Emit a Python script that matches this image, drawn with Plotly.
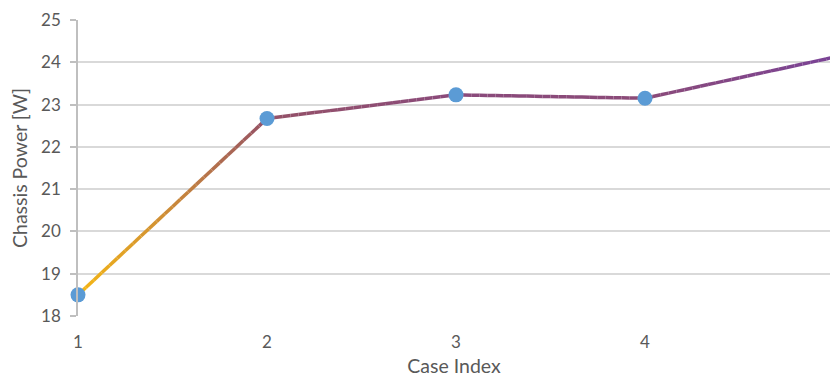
import numpy as np
import plotly.graph_objects as go

# Measured chassis power per test case
case_index = [1, 2, 3, 4, 5]
chassis_power = [18.5, 22.67, 23.23, 23.15, 24.12]

x_ticks = [1, 2, 3, 4]
y_ticks = [18, 19, 20, 21, 22, 23, 24, 25]

# Line colour runs from amber at the bottom of the chart to purple at the top
grad_stops = [(18.5, (245, 183, 20)), (20.5, (205, 140, 55)), (22.6, (150, 82, 100)),
              (23.2, (138, 74, 122)), (24.2, (120, 66, 152))]


def grad_color(v):
    ys = [s[0] for s in grad_stops]
    cols = np.array([s[1] for s in grad_stops], dtype=float)
    rgb = [np.interp(v, ys, cols[:, k]) for k in range(3)]
    return "rgb(%d,%d,%d)" % tuple(int(round(c)) for c in rgb)


fig = go.Figure()

# Draw each segment in short pieces so the stroke can carry the colour gradient
pieces = 24
for i in range(len(case_index) - 1):
    xs = np.linspace(case_index[i], case_index[i + 1], pieces + 1)
    ys = np.linspace(chassis_power[i], chassis_power[i + 1], pieces + 1)
    for j in range(pieces):
        fig.add_trace(go.Scatter(
            x=[xs[j], xs[j + 1]], y=[ys[j], ys[j + 1]],
            mode="lines",
            line=dict(color=grad_color((ys[j] + ys[j + 1]) / 2), width=3.5),
            hoverinfo="skip", showlegend=False, cliponaxis=False,
        ))

fig.add_trace(go.Scatter(
    x=case_index, y=chassis_power, mode="markers",
    marker=dict(color="#5B9BD5", size=15, line=dict(width=0)),
    showlegend=False, cliponaxis=False,
))

font_family = "Lato, Noto Sans, sans-serif"

fig.update_layout(
    width=830, height=377,
    margin=dict(l=78, r=0, t=20, b=61),
    paper_bgcolor="white", plot_bgcolor="white",
    font=dict(family=font_family, color="#595959"),
    xaxis=dict(
        range=[1, 1 + (830 - 78) / 189.0],
        tickvals=x_ticks, ticktext=[str(v) for v in x_ticks],
        showgrid=False, zeroline=False, showline=False,
        ticks="", ticklabelstandoff=14,
        tickfont=dict(size=17, color="#595959"),
        title=dict(text="Case Index", font=dict(size=19.5, color="#595959"), standoff=10),
    ),
    yaxis=dict(
        range=[18, 25],
        tickvals=y_ticks,
        showgrid=True, gridcolor="#D9D9D9", gridwidth=1.5,
        zeroline=False,
        showline=True, linecolor="#BFBFBF", linewidth=1.5,
        ticks="outside", ticklen=6, tickcolor="#BFBFBF", tickwidth=1.5,
        ticklabelstandoff=6,
        tickfont=dict(size=17, color="#595959"),
        title=dict(text="Chassis Power [W]", font=dict(size=19.5, color="#595959"), standoff=8),
    ),
)

fig.write_html("out.html")
